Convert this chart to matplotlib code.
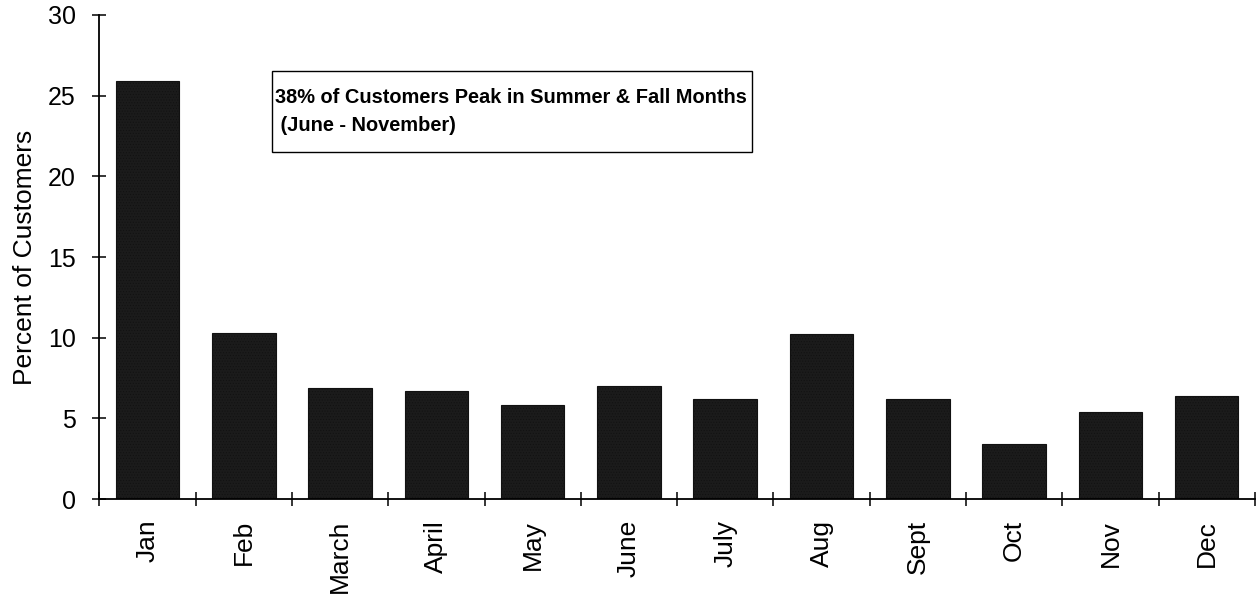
import matplotlib
matplotlib.use("Agg")
import matplotlib.pyplot as plt
from matplotlib.patches import Rectangle
import numpy as np

months = ["Jan", "Feb", "March", "April", "May", "June", "July", "Aug",
          "Sept", "Oct", "Nov", "Dec"]
percent = [25.9, 10.3, 6.9, 6.7, 5.8, 7.0, 6.2, 10.2, 6.2, 3.4, 5.4, 6.4]
y_ticks = [0, 5, 10, 15, 20, 25, 30]
note_line1 = "38% of Customers Peak in Summer & Fall Months"
note_line2 = " (June - November)"

plt.rcParams['font.family'] = ['Liberation Sans', 'DejaVu Sans']
plt.rcParams['hatch.color'] = '#6a6a6a'
plt.rcParams['hatch.linewidth'] = 0.4

fig = plt.figure(figsize=(12.56, 6.0), dpi=100)
ax = fig.add_axes([0.0791, 0.1683, 0.920, 0.8067])

x = np.arange(len(months))
ax.bar(x, percent, width=0.66, color='#1b1b1b', edgecolor='#111111',
       linewidth=0.8, hatch='......')

ax.set_xlim(-0.5, len(months) - 0.5)
ax.set_ylim(0, 30)
ax.set_yticks(y_ticks)
ax.set_yticklabels([str(v) for v in y_ticks], fontsize=18)

ax.set_xticks(np.arange(len(months) + 1) - 0.5)
ax.set_xticklabels([])
ax.set_xticks(x, minor=True)
ax.set_xticklabels(months, minor=True, rotation=90, fontsize=19, va='top')
ax.tick_params(axis='x', which='minor', length=0, pad=15)
ax.tick_params(axis='x', which='major', direction='inout', length=10, width=1.1)
ax.tick_params(axis='y', direction='inout', length=10, width=1.1, pad=12)

ax.set_ylabel("Percent of Customers", fontsize=19, labelpad=8)

for s in ['top', 'right']:
    ax.spines[s].set_visible(False)
for s in ['left', 'bottom']:
    ax.spines[s].set_linewidth(1.3)

ax.add_patch(Rectangle((1.293, 21.5), 6.278 - 1.293, 26.53 - 21.5,
                       facecolor='white', edgecolor='black', linewidth=1.0,
                       zorder=3))
ax.text(1.324, 24.53, note_line1, ha='left', va='baseline', fontsize=14.4,
        fontweight='bold', zorder=4)
ax.text(1.324, 22.81, note_line2, ha='left', va='baseline', fontsize=14.4,
        fontweight='bold', zorder=4)

fig.savefig("out.png", dpi=100)
